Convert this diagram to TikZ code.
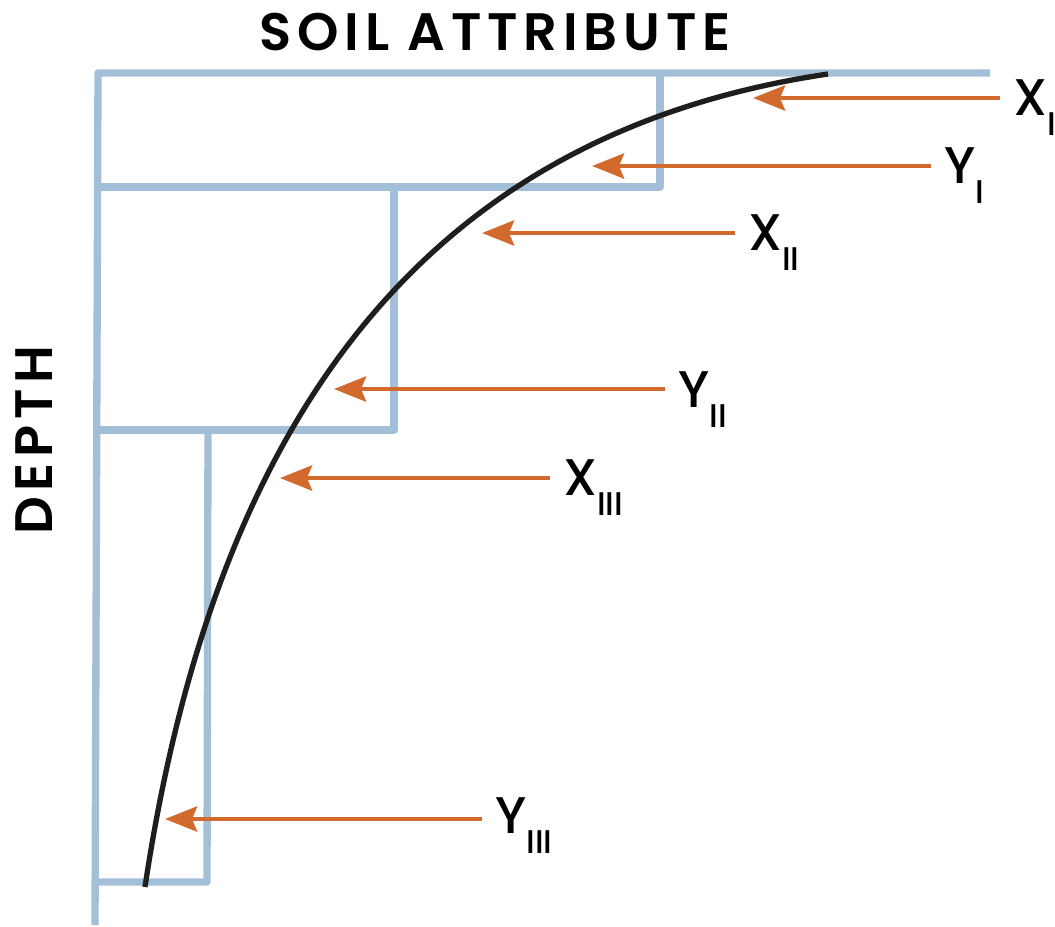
\documentclass[tikz,border=0pt]{standalone}
\usepackage{fontspec}
\setmainfont{Poppins}
\newfontfamily\axisfont{Poppins SemiBold}[LetterSpace=11]
\newfontfamily\markfont{Poppins Medium}
\usetikzlibrary{arrows.meta}
\definecolor{soilcol}{HTML}{A3BFD8}
\definecolor{fluxcol}{HTML}{D2692D}
\definecolor{curvecol}{HTML}{1E1E1E}
\newcommand\hsub[1]{\raisebox{-6mm}{\fontsize{28}{30}\selectfont #1}}

\begin{document}
\begin{tikzpicture}[x=0.3mm,y=-0.3mm,
  soil/.style={draw=soilcol,line width=2.2mm,line join=round},
  fluxarr/.style={draw=fluxcol,line width=1.4mm,-{Stealth[length=9.6mm,width=7.5mm,inset=1.5mm]},shorten <=3.9mm},
  profile/.style={draw=curvecol,line width=1.6mm},
  lbl/.style={inner sep=0pt,anchor=base west,font=\markfont\fontsize{44}{48}\selectfont},
  axlbl/.style={inner sep=0pt,anchor=base,font=\axisfont\fontsize{45}{48}\selectfont}]
  \useasboundingbox (0,0) rectangle (1055,927);
  % horizons
  \draw[soil] (95,925) -- (98,73) -- (990,73);
  \draw[soil] (660,73) -- (660,187) -- (98,187);
  \draw[soil] (394,187) -- (394,430) -- (97,430);
  \draw[soil] (208,430) -- (207,882) -- (95,882);
  % profile curve
  \draw[profile] (828,74) .. controls (450,130) and (220,387) .. (145,887);
  % axis labels
  \node[axlbl] (attr) at (495,50) {SOIL ATTRIBUTE};
  \node[axlbl,rotate=90] (depth) at (52,440) {DEPTH};
  % arrow tips on the curve
  \coordinate (tXI) at (753,98);
  \coordinate (tYI) at (592,166);
  \coordinate (tXII) at (482,233);
  \coordinate (tYII) at (334,389);
  \coordinate (tXIII) at (280,478);
  \coordinate (tYIII) at (165,819);
  % labels
  \node[lbl] (lXI) at (1013,115) {X\hsub{I}};
  \node[lbl] (lYI) at (944,183) {Y\hsub{I}};
  \node[lbl] (lXII) at (748,250) {X\hsub{II}};
  \node[lbl] (lYII) at (678,407) {Y\hsub{II}};
  \node[lbl] (lXIII) at (563,495) {X\hsub{III}};
  \node[lbl] (lYIII) at (495,833) {Y\hsub{III}};
  % arrows
  \draw[fluxarr] (lXI.west |- tXI) -- (tXI);
  \draw[fluxarr] (lYI.west |- tYI) -- (tYI);
  \draw[fluxarr] (lXII.west |- tXII) -- (tXII);
  \draw[fluxarr] (lYII.west |- tYII) -- (tYII);
  \draw[fluxarr] (lXIII.west |- tXIII) -- (tXIII);
  \draw[fluxarr] (lYIII.west |- tYIII) -- (tYIII);
\end{tikzpicture}
\end{document}
